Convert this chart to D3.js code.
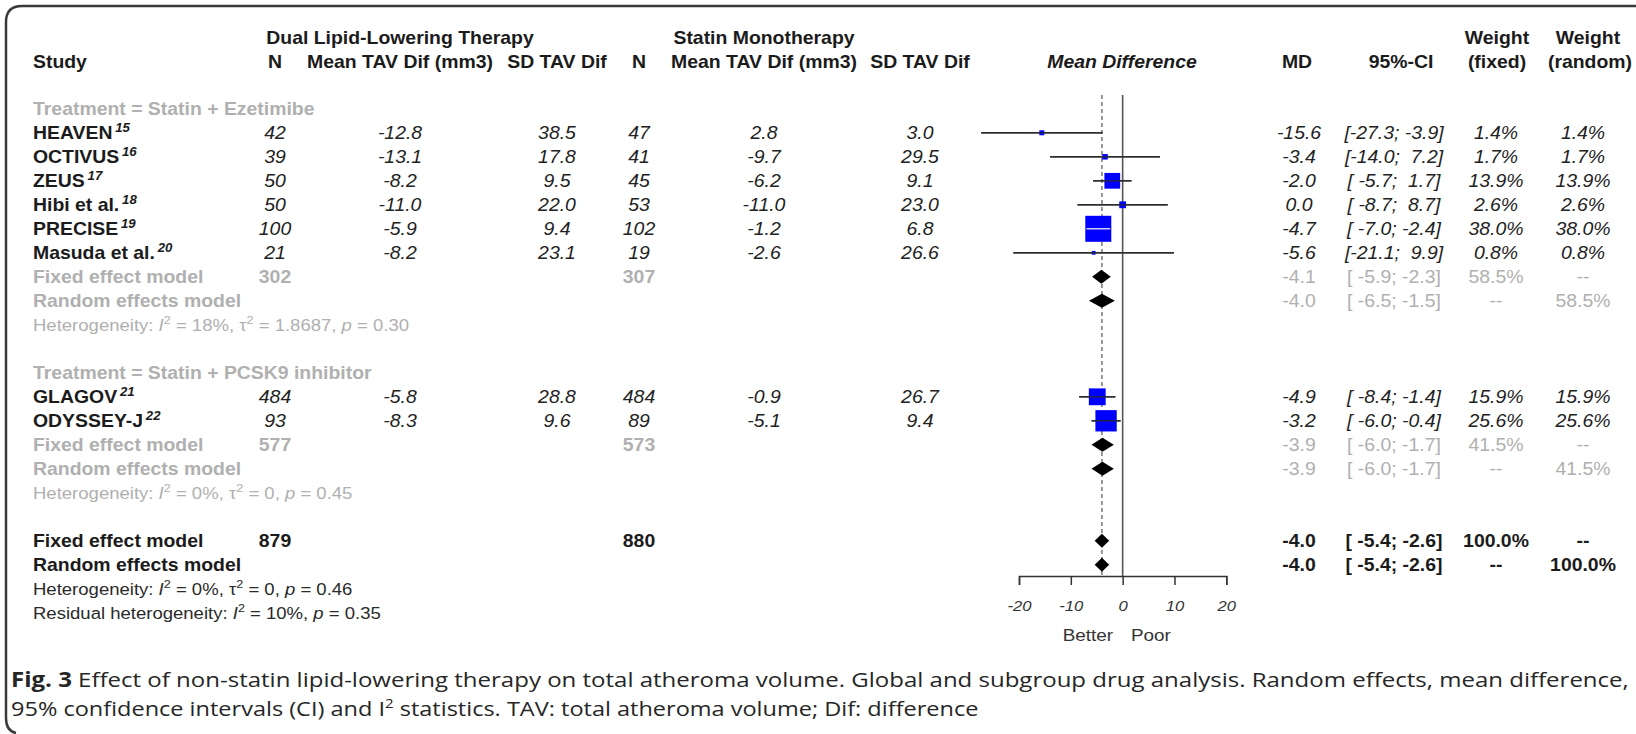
<!DOCTYPE html>
<html>
<head>
<meta charset="utf-8">
<script src="https://cdn.jsdelivr.net/npm/d3@7"></script>
<style>
  html, body { margin: 0; padding: 0; background: #fff; }
  svg { display: block; }
  text { white-space: pre; }
</style>
</head>
<body>
<svg id="chart" width="1636" height="734"></svg>
<script>
// ---------- study-level data ----------
const studies   = ["HEAVEN", "OCTIVUS", "ZEUS", "Hibi et al.", "PRECISE", "Masuda et al.", "GLAGOV", "ODYSSEY-J"];
const refs      = ["15", "16", "17", "18", "19", "20", "21", "22"];
const groupOf   = [0, 0, 0, 0, 0, 0, 1, 1];
const nDual     = [42, 39, 50, 50, 100, 21, 484, 93];
const meanDual  = [-12.8, -13.1, -8.2, -11.0, -5.9, -8.2, -5.8, -8.3];
const sdDual    = [38.5, 17.8, 9.5, 22.0, 9.4, 23.1, 28.8, 9.6];
const nStatin   = [47, 41, 45, 53, 102, 19, 484, 89];
const meanStatin= [2.8, -9.7, -6.2, -11.0, -1.2, -2.6, -0.9, -5.1];
const sdStatin  = [3.0, 29.5, 9.1, 23.0, 6.8, 26.6, 26.7, 9.4];
const md        = [-15.6, -3.4, -2.0, 0.0, -4.7, -5.6, -4.9, -3.2];
const ciLow     = [-27.3, -14.0, -5.7, -8.7, -7.0, -21.1, -8.4, -6.0];
const ciHigh    = [-3.9, 7.2, 1.7, 8.7, -2.4, 9.9, -1.4, -0.4];
const wFixed    = [1.4, 1.7, 13.9, 2.6, 38.0, 0.8, 15.9, 25.6];
const wRandom   = [1.4, 1.7, 13.9, 2.6, 38.0, 0.8, 15.9, 25.6];

// ---------- subgroup summaries ----------
const subgroupLabels = ["Treatment = Statin + Ezetimibe", "Treatment = Statin + PCSK9 inhibitor"];
const subNDual     = [302, 577];
const subNStatin   = [307, 573];
const subFixedMD   = [-4.1, -3.9];
const subFixedLow  = [-5.9, -6.0];
const subFixedHigh = [-2.3, -1.7];
const subRandMD    = [-4.0, -3.9];
const subRandLow   = [-6.5, -6.0];
const subRandHigh  = [-1.5, -1.7];
const subWeight    = [58.5, 41.5];
const subI2        = ["18", "0"];
const subTau2      = ["1.8687", "0"];
const subP         = ["0.30", "0.45"];

// ---------- overall summaries ----------
const overallN      = [879, 880];
const overallFixed  = [-4.0, -5.4, -2.6];   // MD, lower, upper
const overallRandom = [-4.0, -5.4, -2.6];
const overallHet    = ["0", "0", "0.46"];   // I2, tau2, p
const residualHet   = ["10", "0.35"];       // I2, p
const axisTicks     = [-20, -10, 0, 10, 20];

// ---------- layout ----------
const svg = d3.select("#chart");
const FONT = "'Liberation Sans', Arial, Helvetica, sans-serif";
const FS = 17.5, SX = 1.11, SMALL = 16.7;
const INK = "#1b1b1b", GREY = "#b0b0b0";

const col = { study: 33, n1: 275, m1: 400, sd1: 557, n2: 639, m2: 764, sd2: 920,
              md: 1299, ci: 1394, wf: 1496, wr: 1583 };
const rowY = d3.scaleLinear().domain([0, 21]).range([108.8, 612.8]);
const x = d3.scaleLinear().domain([-20, 20]).range([1019, 1226.3]);
const side = d3.scaleSqrt().domain([0, 38]).range([0, 26]);

const f1 = d3.format(".1f");
const num = v => f1(v).replace("−", "-");
const pct = v => num(v) + "%";
const ci = (lo, hi) => "[" + num(lo).padStart(5, " ") + "; " + num(hi).padStart(4, " ") + "]";

// text helper: horizontally widened Arial-like glyphs, optional rich parts
function text(g, px, py, content, o = {}) {
  const size = o.size || FS;
  const el = g.append("text")
    .attr("transform", `translate(${px},${py}) scale(${o.sx || SX},1)`)
    .attr("text-anchor", o.anchor || "middle")
    .attr("font-family", o.family || FONT)
    .attr("font-size", size)
    .attr("font-weight", o.bold ? "bold" : "normal")
    .attr("font-style", o.italic ? "italic" : "normal")
    .attr("fill", o.fill || INK)
    .attr("xml:space", "preserve");
  if (typeof content === "string") { el.text(content); return el; }
  let raised = false;
  content.forEach(p => {
    const ts = el.append("tspan").text(p.t);
    if (p.italic) ts.attr("font-style", "italic");
    if (p.bold) ts.attr("font-weight", "bold");
    if (p.dx) ts.attr("dx", p.dx);
    if (p.sup) {
      ts.attr("font-size", size * 0.68).attr("dy", -size * 0.42);
      raised = true;
    } else if (raised) {
      ts.attr("dy", size * 0.42);
      raised = false;
    }
  });
  return el;
}
const base = r => rowY(r) + 6.3;

// ---------- frame ----------
svg.append("path")
  .attr("d", "M1640,6 H22 Q6,6 6,22 V718 Q6,731 16,733")
  .attr("fill", "none").attr("stroke", "#3a3a3a").attr("stroke-width", 2.5);

// ---------- header ----------
const head = svg.append("g");
text(head, col.m1, 43.5, "Dual Lipid-Lowering Therapy", { bold: true });
text(head, col.m2, 43.5, "Statin Monotherapy", { bold: true });
text(head, col.study, 68, "Study", { bold: true, anchor: "start" });
text(head, col.n1, 68, "N", { bold: true });
text(head, col.m1, 68, "Mean TAV Dif (mm3)", { bold: true });
text(head, col.sd1, 68, "SD TAV Dif", { bold: true });
text(head, col.n2, 68, "N", { bold: true });
text(head, col.m2, 68, "Mean TAV Dif (mm3)", { bold: true });
text(head, col.sd2, 68, "SD TAV Dif", { bold: true });
text(head, 1122, 68, "Mean Difference", { bold: true, italic: true });
text(head, 1297, 68, "MD", { bold: true });
text(head, 1401, 68, "95%-CI", { bold: true });
text(head, 1497, 43.5, "Weight", { bold: true });
text(head, 1497, 68, "(fixed)", { bold: true });
text(head, 1588, 43.5, "Weight", { bold: true });
text(head, 1590, 68, "(random)", { bold: true });

// ---------- reference lines ----------
const plot = svg.append("g");
plot.append("line")
  .attr("x1", x(0)).attr("x2", x(0)).attr("y1", 95).attr("y2", 576)
  .attr("stroke", "#555").attr("stroke-width", 1.6);
plot.append("line")
  .attr("x1", x(overallRandom[0])).attr("x2", x(overallRandom[0])).attr("y1", 95).attr("y2", 576)
  .attr("stroke", "#777").attr("stroke-width", 1.5).attr("stroke-dasharray", "4,3");

// ---------- marks ----------
function studyMark(r, i) {
  const y = rowY(r), s = side(wFixed[i]);
  const x0 = x(ciLow[i]), x1 = x(ciHigh[i]);
  plot.append("line").attr("x1", x0).attr("x2", x1).attr("y1", y).attr("y2", y)
    .attr("stroke", "#3a3a3a").attr("stroke-width", 1.5);
  plot.append("rect")
    .attr("x", x(md[i]) - s / 2).attr("y", y - s / 2).attr("width", s).attr("height", s)
    .attr("fill", "#0000ff");
  const inside = (x1 - x0) < s;
  plot.append("line").attr("x1", x0).attr("x2", x1).attr("y1", y).attr("y2", y)
    .attr("stroke", inside ? "#ffffff" : "#2a2a2a").attr("stroke-width", inside ? 1.2 : 1.3);
}
function diamond(r, m, lo, hi) {
  const y = rowY(r), h = 7;
  plot.append("path")
    .attr("d", `M${x(lo)},${y} L${x(m)},${y - h} L${x(hi)},${y} L${x(m)},${y + h} Z`)
    .attr("fill", "#000");
}
function hetParts(i2, tau2, p, label) {
  const parts = [{ t: label }, { t: "I", italic: true }, { t: "2", sup: true }, { t: ` = ${i2}%, ` }];
  if (tau2 !== null) parts.push({ t: "τ" }, { t: "2", sup: true }, { t: ` = ${tau2}, ` });
  parts.push({ t: "p", italic: true }, { t: ` = ${p}` });
  return parts;
}

// ---------- rows ----------
const rows = svg.append("g");
let r = 0;
[0, 1].forEach(g => {
  text(rows, col.study, base(r), subgroupLabels[g], { bold: true, anchor: "start", fill: GREY });
  r++;
  studies.forEach((name, i) => {
    if (groupOf[i] !== g) return;
    const b = base(r);
    text(rows, col.study, b, [{ t: name }, { t: refs[i], sup: true, italic: true, dx: 2.5 }],
      { bold: true, anchor: "start" });
    const it = { italic: true, fill: "#222" };
    text(rows, col.n1, b, String(nDual[i]), it);
    text(rows, col.m1, b, num(meanDual[i]), it);
    text(rows, col.sd1, b, num(sdDual[i]), it);
    text(rows, col.n2, b, String(nStatin[i]), it);
    text(rows, col.m2, b, num(meanStatin[i]), it);
    text(rows, col.sd2, b, num(sdStatin[i]), it);
    text(rows, col.md, b, num(md[i]), it);
    text(rows, col.ci, b, ci(ciLow[i], ciHigh[i]), it);
    text(rows, col.wf, b, pct(wFixed[i]), it);
    text(rows, col.wr, b, pct(wRandom[i]), it);
    studyMark(r, i);
    r++;
  });
  // fixed effect model of the subgroup
  let b = base(r);
  text(rows, col.study, b, "Fixed effect model", { bold: true, anchor: "start", fill: GREY });
  text(rows, col.n1, b, String(subNDual[g]), { bold: true, fill: GREY });
  text(rows, col.n2, b, String(subNStatin[g]), { bold: true, fill: GREY });
  text(rows, col.md, b, num(subFixedMD[g]), { fill: GREY });
  text(rows, col.ci, b, ci(subFixedLow[g], subFixedHigh[g]), { fill: GREY });
  text(rows, col.wf, b, pct(subWeight[g]), { fill: GREY });
  text(rows, col.wr, b, "--", { fill: GREY });
  diamond(r, subFixedMD[g], subFixedLow[g], subFixedHigh[g]);
  r++;
  // random effects model of the subgroup
  b = base(r);
  text(rows, col.study, b, "Random effects model", { bold: true, anchor: "start", fill: GREY });
  text(rows, col.md, b, num(subRandMD[g]), { fill: GREY });
  text(rows, col.ci, b, ci(subRandLow[g], subRandHigh[g]), { fill: GREY });
  text(rows, col.wf, b, "--", { fill: GREY });
  text(rows, col.wr, b, pct(subWeight[g]), { fill: GREY });
  diamond(r, subRandMD[g], subRandLow[g], subRandHigh[g]);
  r++;
  text(rows, col.study, rowY(r) + 5.8, hetParts(subI2[g], subTau2[g], subP[g], "Heterogeneity: "),
    { anchor: "start", size: SMALL, fill: GREY });
  r += 2;
});

// overall fixed / random
let b = base(r);
text(rows, col.study, b, "Fixed effect model", { bold: true, anchor: "start" });
text(rows, col.n1, b, String(overallN[0]), { bold: true });
text(rows, col.n2, b, String(overallN[1]), { bold: true });
text(rows, col.md, b, num(overallFixed[0]), { bold: true });
text(rows, col.ci, b, ci(overallFixed[1], overallFixed[2]), { bold: true });
text(rows, col.wf, b, pct(100), { bold: true });
text(rows, col.wr, b, "--", { bold: true });
diamond(r, overallFixed[0], overallFixed[1], overallFixed[2]);
r++;
b = base(r);
text(rows, col.study, b, "Random effects model", { bold: true, anchor: "start" });
text(rows, col.md, b, num(overallRandom[0]), { bold: true });
text(rows, col.ci, b, ci(overallRandom[1], overallRandom[2]), { bold: true });
text(rows, col.wf, b, "--", { bold: true });
text(rows, col.wr, b, pct(100), { bold: true });
diamond(r, overallRandom[0], overallRandom[1], overallRandom[2]);
r++;
text(rows, col.study, rowY(r) + 5.8, hetParts(overallHet[0], overallHet[1], overallHet[2], "Heterogeneity: "),
  { anchor: "start", size: SMALL, fill: "#2a2a2a" });
r++;
text(rows, col.study, rowY(r) + 5.8, hetParts(residualHet[0], null, residualHet[1], "Residual heterogeneity: "),
  { anchor: "start", size: SMALL, fill: "#2a2a2a" });

// ---------- axis ----------
const ax = svg.append("g").attr("transform", "translate(0,576)")
  .call(d3.axisBottom(x).tickValues(axisTicks).tickSize(9).tickPadding(15).tickFormat(d => String(d)));
ax.select(".domain").attr("stroke", "#333").attr("stroke-width", 1.5);
ax.selectAll(".tick line").attr("stroke", "#333").attr("stroke-width", 1.5);
ax.selectAll(".tick text")
  .attr("font-family", FONT).attr("font-size", 15).attr("font-style", "italic")
  .attr("fill", "#333").attr("transform", `scale(${SX},1)`);
text(svg, 1113, 641, "Better", { anchor: "end", size: 17, fill: "#333" });
text(svg, 1131, 641, "Poor", { anchor: "start", size: 17, fill: "#333" });

// ---------- caption ----------
const cap = svg.append("g");
const capFont = "'Open Sans', 'Noto Sans', sans-serif";
const line1 = cap.append("text").attr("x", 0).attr("y", 0)
  .attr("font-family", capFont).attr("font-size", 20.5).attr("fill", "#262626");
line1.append("tspan").attr("font-weight", "bold").text("Fig. 3");
line1.append("tspan").text(" Effect of non-statin lipid-lowering therapy on total atheroma volume. Global and subgroup drug analysis. Random effects, mean difference,");
const line2 = cap.append("text").attr("x", 0).attr("y", 0)
  .attr("font-family", capFont).attr("font-size", 20.5).attr("fill", "#262626");
line2.append("tspan").text("95% confidence intervals (CI) and I");
line2.append("tspan").attr("font-size", 13).attr("dy", -8).text("2");
line2.append("tspan").attr("dy", 8).text(" statistics. TAV: total atheroma volume; Dif: difference");
const sx1 = 1619 / line1.node().getComputedTextLength();
const sx2 = 968 / line2.node().getComputedTextLength();
line1.attr("transform", `translate(11,687) scale(${sx1},1)`);
line2.attr("transform", `translate(11,716) scale(${sx2},1)`);
</script>
</body>
</html>
